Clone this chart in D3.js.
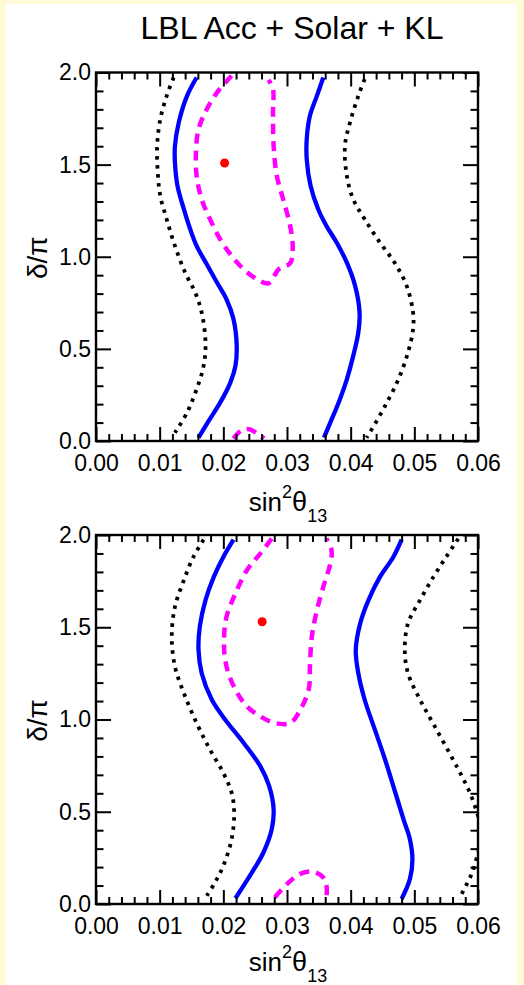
<!DOCTYPE html>
<html>
<head>
<meta charset="utf-8">
<script src="https://cdn.jsdelivr.net/npm/d3@7"></script>
<style>
  body { margin: 0; background: #fffbd6; }
  svg { display: block; }
  text { font-family: "Liberation Sans", Arial, Helvetica, sans-serif; fill: #000; }
</style>
</head>
<body>
<svg id="chart" width="524" height="985"></svg>
<script>
// axis ticks
var xMajor = [0, 0.01, 0.02, 0.03, 0.04, 0.05, 0.06];
var yMajor = [0, 0.5, 1.0, 1.5, 2.0];

// contours, [sin^2 theta13, delta/pi]
// top panel
var topBlueLeft = [[0.0158,1.973],[0.0143,1.873],[0.0130,1.729],[0.0124,1.602],[0.0124,1.511],[0.0128,1.385],
  [0.0138,1.258],[0.0148,1.149],[0.0158,1.059],[0.0174,0.959],[0.0190,0.860],[0.0205,0.769],[0.0216,0.661],
  [0.0221,0.516],[0.0219,0.407],[0.0211,0.317],[0.0195,0.208],[0.0177,0.109],[0.0161,0.018]];
var topBlueRight = [[0.0357,1.973],[0.0347,1.873],[0.0336,1.765],[0.0331,1.638],[0.0331,1.529],[0.0337,1.385],
  [0.0349,1.258],[0.0362,1.167],[0.0378,1.077],[0.0394,0.968],[0.0407,0.842],[0.0414,0.697],[0.0412,0.588],
  [0.0404,0.462],[0.0394,0.335],[0.0381,0.208],[0.0368,0.100],[0.0358,0.018]];
var topDotLeft = [[0.0122,1.973],[0.0111,1.873],[0.0101,1.747],[0.0096,1.602],[0.0097,1.457],[0.0101,1.330],
  [0.0111,1.204],[0.0124,1.059],[0.0140,0.914],[0.0156,0.805],[0.0166,0.697],[0.0172,0.534],[0.0169,0.407],
  [0.0158,0.281],[0.0143,0.154],[0.0124,0.045]];
var topDotRight = [[0.0422,1.964],[0.0412,1.873],[0.0399,1.729],[0.0391,1.602],[0.0394,1.439],[0.0404,1.312],
  [0.0422,1.204],[0.0446,1.077],[0.0469,0.968],[0.0488,0.842],[0.0498,0.697],[0.0498,0.606],[0.0490,0.480],
  [0.0475,0.335],[0.0454,0.190],[0.0433,0.063],[0.0425,0.018]];
var topDash = [[0.0213,1.982],[0.0190,1.891],[0.0174,1.801],[0.0161,1.692],[0.0157,1.566],[0.0158,1.439],
  [0.0166,1.312],[0.0179,1.204],[0.0195,1.095],[0.0213,1.005],[0.0232,0.932],[0.0253,0.878],[0.0271,0.856],
  [0.0287,0.932],[0.0305,0.965],[0.0309,1.041],[0.0305,1.167],[0.0294,1.312],[0.0284,1.439],[0.0279,1.602],
  [0.0278,1.783],[0.0278,1.909],[0.0271,1.960]];
var topDashLow = [[0.0216,0.013],[0.0229,0.060],[0.0242,0.063],[0.0255,0.036],[0.0264,0.014]];
var topBest = [0.0202, 1.509];

// bottom panel
var botBlueLeft = [[0.0216,1.975],[0.0200,1.881],[0.0185,1.773],[0.0172,1.647],[0.0163,1.503],[0.0161,1.377],
  [0.0166,1.251],[0.0182,1.107],[0.0203,0.999],[0.0232,0.873],[0.0258,0.747],[0.0272,0.639],[0.0279,0.513],
  [0.0276,0.405],[0.0263,0.279],[0.0245,0.171],[0.0219,0.031]];
var botBlueRight = [[0.0480,1.975],[0.0467,1.881],[0.0446,1.773],[0.0428,1.647],[0.0415,1.521],[0.0408,1.377],
  [0.0412,1.251],[0.0422,1.107],[0.0438,0.945],[0.0454,0.783],[0.0467,0.639],[0.0483,0.459],[0.0493,0.351],
  [0.0497,0.243],[0.0493,0.135],[0.0480,0.027]];
var botDotLeft = [[0.0169,1.975],[0.0153,1.881],[0.0138,1.755],[0.0124,1.611],[0.0119,1.449],[0.0124,1.287],
  [0.0138,1.143],[0.0158,0.981],[0.0179,0.837],[0.0200,0.711],[0.0213,0.603],[0.0217,0.495],[0.0213,0.351],
  [0.0200,0.207],[0.0187,0.117],[0.0174,0.045]];
var botDotRight = [[0.0569,1.980],[0.0550,1.881],[0.0530,1.773],[0.0509,1.647],[0.0490,1.521],[0.0485,1.377],
  [0.0490,1.251],[0.0509,1.107],[0.0532,0.963],[0.0560,0.788],[0.0574,0.697],[0.0587,0.605],[0.0598,0.500],
  [0.0606,0.380],[0.0598,0.250],[0.0590,0.162],[0.0584,0.119],[0.0577,0.072],[0.0570,0.027]];
var botDash = [[0.0276,1.980],[0.0258,1.899],[0.0237,1.809],[0.0219,1.683],[0.0205,1.557],[0.0201,1.413],
  [0.0205,1.287],[0.0219,1.161],[0.0237,1.071],[0.0258,1.017],[0.0281,0.981],[0.0305,0.981],[0.0318,1.035],
  [0.0334,1.161],[0.0336,1.287],[0.0339,1.449],[0.0347,1.593],[0.0357,1.719],[0.0368,1.845],[0.0370,1.917],
  [0.0362,1.980]];
var botDashLow = [[0.0281,0.036],[0.0300,0.108],[0.0320,0.162],[0.0341,0.175],[0.0357,0.144],[0.0362,0.099],
  [0.0362,0.027]];
var botBest = [0.0261, 1.530];

var svg = d3.select("#chart");

svg.append("rect").attr("width", 524).attr("height", 985).attr("fill", "#fffbd6");
svg.append("rect").attr("x", 6).attr("y", 4).attr("width", 511).attr("height", 981).attr("fill", "#fff");

svg.append("text")
  .attr("x", 292).attr("y", 39)
  .attr("text-anchor", "middle")
  .style("font-size", "32px")
  .text("LBL Acc + Solar + KL");

function drawPanel(top, bottom, titleGap, c) {
  var x = d3.scaleLinear().domain([0, 0.06]).range([96, 478]);
  var y = d3.scaleLinear().domain([0, 2]).range([bottom, top]);
  var xMinor = d3.range(0, 0.0601, 0.002).filter(function(v) { return Math.abs(v * 100 - Math.round(v * 100)) > 1e-6; });
  var yMinor = d3.range(0, 2.01, 0.1).filter(function(v) { return Math.abs(v * 2 - Math.round(v * 2)) > 1e-6; });

  var g = svg.append("g");
  var clipId = "clip" + Math.round(top);
  g.append("clipPath").attr("id", clipId)
    .append("rect").attr("x", 96).attr("y", top).attr("width", 382).attr("height", bottom - top);

  var line = d3.line()
    .x(function(d) { return x(d[0]); })
    .y(function(d) { return y(d[1]); })
    .curve(d3.curveCatmullRom.alpha(0.5));

  var plot = g.append("g").attr("clip-path", "url(#" + clipId + ")");

  function contour(data, color, w, dash) {
    plot.append("path")
      .datum(data)
      .attr("d", line)
      .attr("fill", "none")
      .attr("stroke", color)
      .attr("stroke-width", w)
      .attr("stroke-dasharray", dash);
  }
  contour(c.dotL, "#000", 3.8, "3.5,5.5");
  contour(c.dotR, "#000", 3.8, "3.5,5.5");
  contour(c.blueL, "#0000ff", 4.3, null);
  contour(c.blueR, "#0000ff", 4.3, null);
  contour(c.dash, "#ff00ff", 4.5, "10,7");
  contour(c.dashLow, "#ff00ff", 4.5, "10,7");

  plot.append("circle")
    .attr("cx", x(c.best[0])).attr("cy", y(c.best[1]))
    .attr("r", 4.5).attr("fill", "#ff0000");

  // axes, ticks pointing inwards
  g.append("g").attr("transform", "translate(0," + bottom + ")")
    .call(d3.axisBottom(x).tickValues(xMajor).tickSize(-14).tickSizeOuter(0).tickPadding(14).tickFormat(d3.format(".2f")));
  g.append("g").attr("transform", "translate(0," + bottom + ")")
    .call(d3.axisBottom(x).tickValues(xMinor).tickSize(-7).tickSizeOuter(0).tickFormat(""));
  g.append("g").attr("transform", "translate(0," + top + ")")
    .call(d3.axisTop(x).tickValues(xMajor).tickSize(-14).tickSizeOuter(0).tickFormat(""));
  g.append("g").attr("transform", "translate(0," + top + ")")
    .call(d3.axisTop(x).tickValues(xMinor).tickSize(-7).tickSizeOuter(0).tickFormat(""));
  g.append("g").attr("transform", "translate(96,0)")
    .call(d3.axisLeft(y).tickValues(yMajor).tickSize(-15).tickSizeOuter(0).tickPadding(5).tickFormat(d3.format(".1f")));
  g.append("g").attr("transform", "translate(96,0)")
    .call(d3.axisLeft(y).tickValues(yMinor).tickSize(-7.5).tickSizeOuter(0).tickFormat(""));
  g.append("g").attr("transform", "translate(478,0)")
    .call(d3.axisRight(y).tickValues(yMajor).tickSize(-15).tickSizeOuter(0).tickFormat(""));
  g.append("g").attr("transform", "translate(478,0)")
    .call(d3.axisRight(y).tickValues(yMinor).tickSize(-7.5).tickSizeOuter(0).tickFormat(""));

  g.selectAll(".domain").remove();
  g.selectAll(".tick line").attr("stroke", "#000").attr("stroke-width", 2);
  g.selectAll(".tick text").style("font-size", "23px").style("font-family", "'Liberation Sans', Arial, sans-serif").attr("fill", "#000");

  g.append("rect")
    .attr("x", 96).attr("y", top).attr("width", 382).attr("height", bottom - top)
    .attr("fill", "none").attr("stroke", "#000").attr("stroke-width", 2.4);

  // axis titles
  var xt = g.append("text")
    .attr("x", 288).attr("y", bottom + titleGap)
    .attr("text-anchor", "middle")
    .style("font-size", "26px");
  xt.append("tspan").text("sin");
  xt.append("tspan").attr("dy", -13).style("font-size", "18px").text("2");
  xt.append("tspan").attr("dy", 13).style("font-size", "27px").text("θ");
  xt.append("tspan").attr("dy", 11).style("font-size", "18px").text("13");

  g.append("text")
    .attr("transform", "translate(47," + ((top + bottom) / 2 + 1) + ") rotate(-90)")
    .attr("text-anchor", "middle")
    .style("font-size", "28px")
    .text("δ/π");
}

drawPanel(72.5, 441, 70, {blueL: topBlueLeft, blueR: topBlueRight, dotL: topDotLeft, dotR: topDotRight,
  dash: topDash, dashLow: topDashLow, best: topBest});
drawPanel(535, 904, 67, {blueL: botBlueLeft, blueR: botBlueRight, dotL: botDotLeft, dotR: botDotRight,
  dash: botDash, dashLow: botDashLow, best: botBest});
</script>
</body>
</html>
